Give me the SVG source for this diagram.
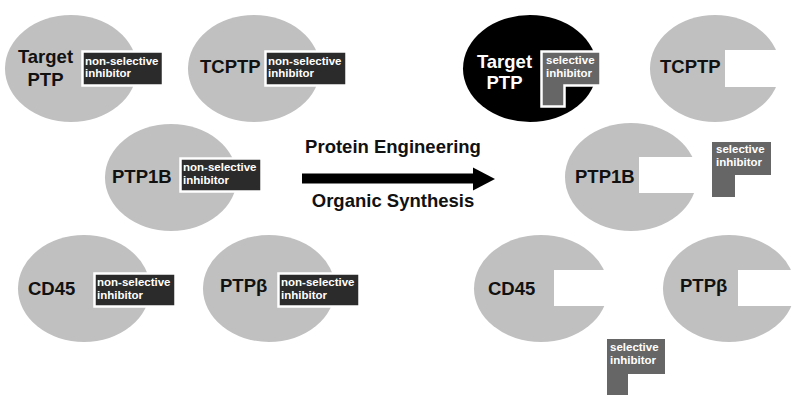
<svg xmlns="http://www.w3.org/2000/svg" width="800" height="400" viewBox="0 0 800 400">
<defs>
<style>
.e{fill:#c0c0c0}
.lbl{font-family:"Liberation Sans",Arial,sans-serif;font-weight:bold;font-size:18.5px;fill:#111}
.wl{font-family:"Liberation Sans",Arial,sans-serif;font-weight:bold;font-size:18.5px;fill:#fff}
.ns{fill:#2b2b2b;stroke:#fff;stroke-width:2.5}
.sel{fill:#666}
.selb{fill:#666;stroke:#fff;stroke-width:2.5}
.it{font-family:"Liberation Sans",Arial,sans-serif;font-weight:bold;font-size:11.5px;fill:#fff}
.notch{fill:#fff}
.at{font-family:"Liberation Sans",Arial,sans-serif;font-weight:bold;font-size:18.5px;fill:#111;text-anchor:middle}
</style>
</defs>
<rect width="800" height="400" fill="#fff"/>

<!-- left side -->
<g id="L-target">
<ellipse class="e" cx="71" cy="68.5" rx="66" ry="53.5"/>
<text class="lbl" x="45.5" y="63" text-anchor="middle">Target</text>
<text class="lbl" x="45.5" y="86" text-anchor="middle">PTP</text>
<rect class="ns" x="82.5" y="51.5" width="80.5" height="34"/>
<text class="it" x="85" y="65">non-selective</text>
<text class="it" x="85" y="77">inhibitor</text>
</g>
<g id="L-tcptp">
<ellipse class="e" cx="254" cy="68.5" rx="66" ry="53.5"/>
<text class="lbl" x="200" y="73">TCPTP</text>
<rect class="ns" x="265.5" y="51.5" width="81" height="34"/>
<text class="it" x="268" y="65">non-selective</text>
<text class="it" x="268" y="77">inhibitor</text>
</g>
<g id="L-ptp1b">
<ellipse class="e" cx="171" cy="177.5" rx="66" ry="53.5"/>
<text class="lbl" x="112" y="183">PTP1B</text>
<rect class="ns" x="180.5" y="158.5" width="81" height="33"/>
<text class="it" x="183" y="171">non-selective</text>
<text class="it" x="183" y="183.5">inhibitor</text>
</g>
<g id="L-cd45">
<ellipse class="e" cx="84" cy="288.5" rx="66" ry="53.5"/>
<text class="lbl" x="28" y="295">CD45</text>
<rect class="ns" x="94.5" y="273.5" width="81" height="33"/>
<text class="it" x="97" y="286">non-selective</text>
<text class="it" x="97" y="298.5">inhibitor</text>
</g>
<g id="L-ptpb">
<ellipse class="e" cx="269" cy="288.5" rx="66" ry="53.5"/>
<text class="lbl" x="220" y="292">PTPβ</text>
<rect class="ns" x="278.5" y="273.5" width="81" height="33"/>
<text class="it" x="281" y="286">non-selective</text>
<text class="it" x="281" y="298.5">inhibitor</text>
</g>

<!-- connector -->
<g id="connectors">
<line x1="302" y1="178.5" x2="474" y2="178.5" stroke="#000" stroke-width="10"/>
<path d="M473,167.5L495,179L473,190.5z" fill="#000"/>
<text class="at" x="393" y="153">Protein Engineering</text>
<text class="at" x="393" y="207">Organic Synthesis</text>
</g>

<!-- right side -->
<g id="R-target">
<ellipse cx="530" cy="68.5" rx="67" ry="53.5" fill="#000"/>
<text class="wl" x="504.5" y="68" text-anchor="middle">Target</text>
<text class="wl" x="504.5" y="89" text-anchor="middle">PTP</text>
<path class="selb" d="M541.5,51.5H600.5V85.5H564.5V106.5H541.5z"/>
<text class="it" x="546" y="64">selective</text>
<text class="it" x="546" y="76.5">inhibitor</text>
</g>
<g id="R-tcptp">
<ellipse class="e" cx="715" cy="68.5" rx="65" ry="53.5"/>
<rect class="notch" x="725" y="50" width="60" height="37"/>
<text class="lbl" x="660" y="73">TCPTP</text>
</g>
<g id="R-ptp1b">
<ellipse class="e" cx="631" cy="177" rx="66" ry="54"/>
<rect class="notch" x="639" y="157" width="62" height="36"/>
<text class="lbl" x="575" y="183">PTP1B</text>
</g>
<g id="R-sel-1">
<path class="sel" d="M712,142H771V175H735V197H712z"/>
<text class="it" x="716" y="153">selective</text>
<text class="it" x="716" y="166">inhibitor</text>
</g>
<g id="R-cd45">
<ellipse class="e" cx="541" cy="288.5" rx="67" ry="53.5"/>
<rect class="notch" x="554" y="270" width="60" height="36"/>
<text class="lbl" x="488" y="295">CD45</text>
</g>
<g id="R-ptpb">
<ellipse class="e" cx="729" cy="288.5" rx="66" ry="53.5"/>
<rect class="notch" x="738" y="270" width="62" height="36"/>
<text class="lbl" x="680" y="292">PTPβ</text>
</g>
<g id="R-sel-2">
<path class="sel" d="M607,339H665V374H628V395H607z"/>
<text class="it" x="610" y="351">selective</text>
<text class="it" x="610" y="364">inhibitor</text>
</g>
</svg>
